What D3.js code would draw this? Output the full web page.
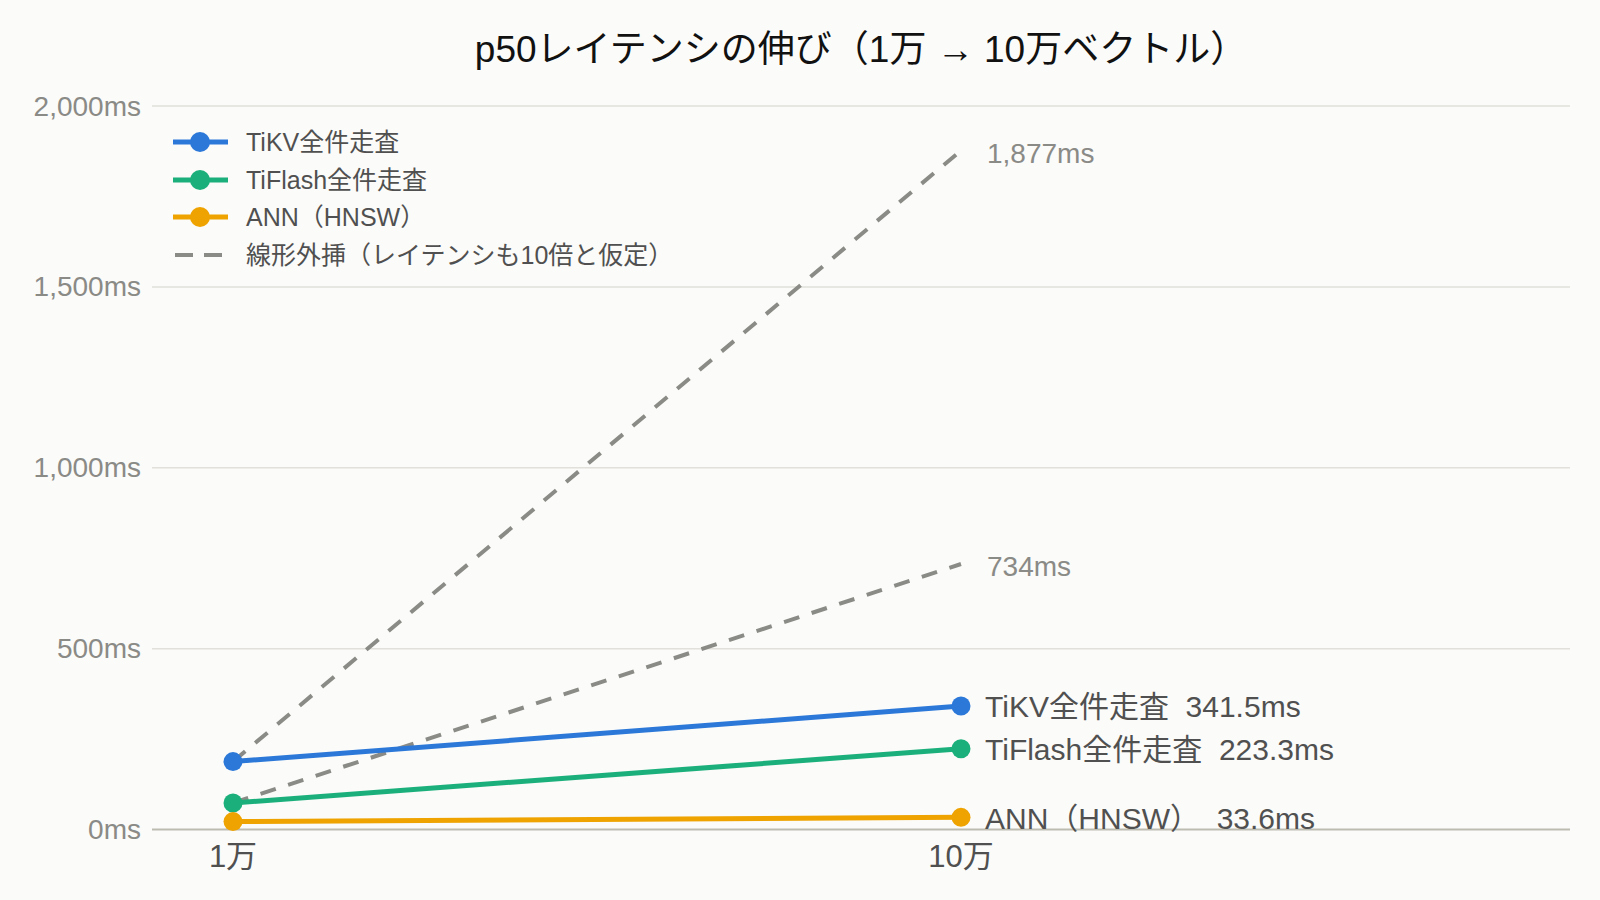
<!DOCTYPE html>
<html>
<head>
    <meta charset="UTF-8" />
    <title>p50レイテンシの伸び</title>
    <script src="https://cdn.jsdelivr.net/npm/d3@7"></script>
    <style>
        html, body { margin: 0; padding: 0; background: #fbfbf9; }
        svg { display: block; font-family: "Liberation Sans", "Noto Sans CJK JP", sans-serif; }
        .grid line { stroke: #e1e0da; stroke-width: 1.5; }
        .tick-label { fill: #8a8a86; font-size: 28px; }
        .end-label { fill: #505050; font-size: 30px; white-space: pre; }
        .ext-label { fill: #8a8a86; font-size: 28px; }
        .legend text { fill: #505050; font-size: 25px; }
    </style>
</head>
<body>
<svg id="chart" width="1600" height="900"></svg>
<script>
    // data
    var categories = ["1万", "10万"];
    var seriesNames = ["TiKV全件走査", "TiFlash全件走査", "ANN（HNSW）"];
    var seriesColors = ["#2b78d9", "#1bb07b", "#eea300"];
    var tikv = [187.7, 341.5];
    var tiflash = [73.4, 223.3];
    var ann = [21.8, 33.6];
    // linear extrapolation: x10 from the 1万 value
    var extTikv = [187.7, 1877];
    var extTiflash = [73.4, 734];
    var yTicks = [0, 500, 1000, 1500, 2000];
    var legendExt = "線形外挿（レイテンシも10倍と仮定）";
    var title = "p50レイテンシの伸び（1万 → 10万ベクトル）";

    var series = [tikv, tiflash, ann];
    var svg = d3.select("#chart");
    var plotL = 152, plotR = 1570, plotT = 106, plotB = 829.5;

    var x = d3.scalePoint().domain(categories).range([233, 961]);
    var y = d3.scaleLinear().domain([0, 2000]).range([plotB, plotT]);
    var fmt = d3.format(",");

    svg.append("text")
        .attr("x", 861).attr("y", 49)
        .attr("text-anchor", "middle").attr("dominant-baseline", "central")
        .style("font-size", "37px").style("fill", "#111")
        .style("white-space", "pre")
        .text(title);

    // grid
    var grid = svg.append("g").attr("class", "grid");
    grid.selectAll("line").data(yTicks).enter().append("line")
        .attr("x1", plotL).attr("x2", plotR)
        .attr("y1", function (d) { return y(d); })
        .attr("y2", function (d) { return y(d); })
        .style("stroke", function (d) { return d === 0 ? "#bdbcb1" : null; })
        .style("stroke-width", function (d) { return d === 0 ? 2 : null; });
    svg.selectAll(".tick-label").data(yTicks).enter().append("text")
        .attr("class", "tick-label")
        .attr("x", 141).attr("y", function (d) { return y(d); })
        .attr("text-anchor", "end").attr("dominant-baseline", "central")
        .text(function (d) { return fmt(d) + "ms"; });

    // x labels
    svg.selectAll(".x-label").data(categories).enter().append("text")
        .attr("x", function (d) { return x(d); }).attr("y", 856)
        .attr("text-anchor", "middle").attr("dominant-baseline", "central")
        .style("font-size", "31px").style("fill", "#505050")
        .text(function (d) { return d; });

    var line = d3.line()
        .x(function (d, i) { return x(categories[i]); })
        .y(function (d) { return y(d); });

    // extrapolation
    [extTikv, extTiflash].forEach(function (s) {
        svg.append("path").datum(s)
            .attr("d", line).attr("fill", "none")
            .attr("stroke", "#8a8a86").attr("stroke-width", 4)
            .attr("stroke-dasharray", "16,13");
        svg.append("text").attr("class", "ext-label")
            .attr("x", x(categories[1]) + 26).attr("y", y(s[1]) + 3)
            .attr("dominant-baseline", "central")
            .text(fmt(s[1]) + "ms");
    });

    // series
    series.forEach(function (s, k) {
        svg.append("path").datum(s)
            .attr("d", line).attr("fill", "none")
            .attr("stroke", seriesColors[k]).attr("stroke-width", 5);
        svg.selectAll(".pt" + k).data(s).enter().append("circle")
            .attr("cx", function (d, i) { return x(categories[i]); })
            .attr("cy", function (d) { return y(d); })
            .attr("r", 9.5).attr("fill", seriesColors[k]);
        svg.append("text").attr("class", "end-label")
            .attr("x", x(categories[1]) + 24).attr("y", y(s[1]) + 1)
            .attr("dominant-baseline", "central")
            .text(seriesNames[k] + "  " + s[1] + "ms");
    });

    // legend
    var lg = svg.append("g").attr("class", "legend");
    var rowsY = [142, 180, 217, 255];
    seriesNames.forEach(function (n, k) {
        var g = lg.append("g").attr("transform", "translate(0," + rowsY[k] + ")");
        g.append("line").attr("x1", 173).attr("x2", 228)
            .attr("stroke", seriesColors[k]).attr("stroke-width", 5);
        g.append("circle").attr("cx", 200).attr("r", 10).attr("fill", seriesColors[k]);
        g.append("text").attr("x", 246).attr("dominant-baseline", "central").text(n);
    });
    var ge = lg.append("g").attr("transform", "translate(0," + rowsY[3] + ")");
    ge.append("line").attr("x1", 175).attr("x2", 222)
        .attr("stroke", "#8a8a86").attr("stroke-width", 4)
        .attr("stroke-dasharray", "18,11");
    ge.append("text").attr("x", 246).attr("dominant-baseline", "central").text(legendExt);
</script>
</body>
</html>
